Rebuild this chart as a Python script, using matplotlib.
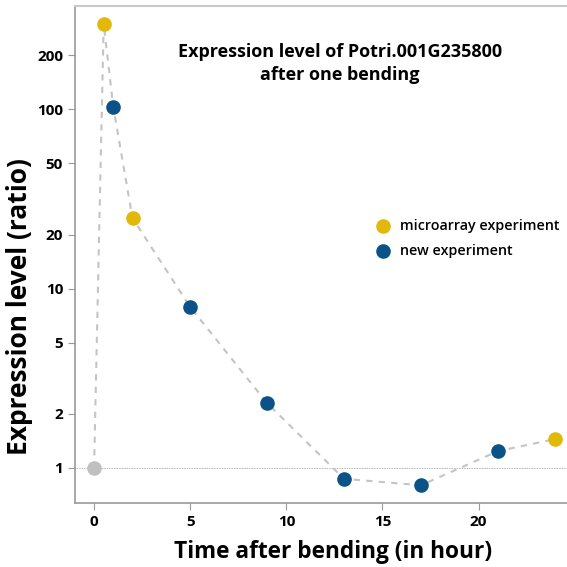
import matplotlib
matplotlib.use("Agg")
import matplotlib.pyplot as plt
import numpy as np

plt.rcParams['font.family'] = ['Open Sans', 'DejaVu Sans']

# time after bending (hours) and expression ratio
hours = [0, 0.5, 1, 2, 5, 9, 13, 17, 21, 24]
ratio = [1.0, 300, 103, 24.7, 7.9, 2.3, 0.87, 0.80, 1.24, 1.45]
source = ["control", "microarray", "new", "microarray", "new",
          "new", "new", "new", "new", "microarray"]

colors = {"control": "#c0c0c0", "microarray": "#e2b80a", "new": "#0b5288"}
labels = {"microarray": "microarray experiment", "new": "new experiment"}

yticks = [1, 2, 5, 10, 20, 50, 100, 200]
xticks = [0, 5, 10, 15, 20]

fig = plt.figure(figsize=(5.67, 5.67), dpi=100)
ax = fig.add_axes([0.132, 0.113, 0.868, 0.876])

ax.plot(hours, ratio, linestyle=(0, (3, 3)), color="#c4c4c4", lw=1.5, zorder=1)
ax.axhline(1, color="#999999", lw=0.6, linestyle=(0, (1, 1)), zorder=0)

for kind in ["control", "microarray", "new"]:
    xs = [h for h, s in zip(hours, source) if s == kind]
    ys = [r for r, s in zip(ratio, source) if s == kind]
    ax.scatter(xs, ys, s=90, color=colors[kind], zorder=3,
               label=labels.get(kind, "_nolegend_"))

ax.set_yscale("log")
ax.set_ylim(0.638, 376)
ax.set_xlim(-1.0, 24.6)
ax.set_yticks(yticks)
ax.set_yticklabels([str(t) for t in yticks])
ax.minorticks_off()
ax.set_xticks(xticks)

ax.tick_params(labelsize=11, colors="#999999", labelcolor="black", length=5)
for t in ax.get_xticklabels() + ax.get_yticklabels():
    t.set_fontweight("bold")

ax.spines['right'].set_visible(False)
ax.spines['top'].set_color("#c8c8c8")
ax.spines['top'].set_linewidth(1.5)
ax.spines['left'].set_color("#999999")
ax.spines['bottom'].set_color("#999999")
ax.spines['left'].set_linewidth(1.2)
ax.spines['bottom'].set_linewidth(1.2)

ax.set_xlabel("Time after bending (in hour)", fontsize=16.3, fontweight="bold")
ax.xaxis.set_label_coords(0.524, -0.075)
ax.set_ylabel("Expression level (ratio)", fontsize=19, fontweight="bold")
ax.yaxis.set_label_coords(-0.086, 0.395)

ax.text(0.539, 0.925, "Expression level of Potri.001G235800\nafter one bending",
        transform=ax.transAxes, ha="center", va="top", fontsize=13,
        fontweight="bold", linespacing=1.3)

ax.legend(loc="center left", bbox_to_anchor=(0.57, 0.533), frameon=False,
          prop={'size': 10.3, 'weight': 'semibold'}, handletextpad=0.2,
          labelspacing=0.75, markerscale=1.0)

fig.savefig("out.png", dpi=100)
